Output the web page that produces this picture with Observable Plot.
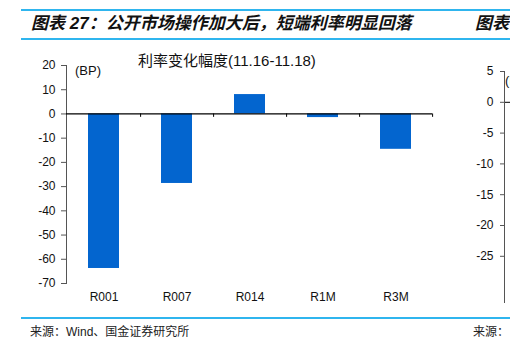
<!DOCTYPE html>
<html><head><meta charset="utf-8">
<script src="https://cdn.jsdelivr.net/npm/d3@7"></script>
<script src="https://cdn.jsdelivr.net/npm/@observablehq/plot@0.6"></script>
<style>
html,body{margin:0;padding:0;background:#fff;}
body{width:510px;height:340px;position:relative;overflow:hidden;font-family:"Liberation Sans","Noto Sans CJK SC",sans-serif;}
.abs{position:absolute;white-space:nowrap;}
.hline{position:absolute;left:21px;width:489px;height:2px;background:#2fb5ee;}
.title{font-size:17px;line-height:20px;font-weight:bold;font-style:italic;color:#111;}
.src{font-size:12px;line-height:14px;color:#222;}
svg{max-width:none !important;}
</style></head>
<body>
<div class="hline" style="top:9px"></div>
<div class="hline" style="top:38px"></div>
<div class="hline" style="top:317px"></div>
<div class="abs title" style="left:31px;top:14px;">图表 27：公开市场操作加大后，短端利率明显回落</div>
<div class="abs title" style="left:475px;top:14px;">图表</div>
<div class="abs src" style="left:30px;top:325px;">来源：Wind、国金证券研究所</div>
<div class="abs src" style="left:473px;top:325px;">来源：</div>
<div class="abs" style="left:138px;top:52px;font-size:15px;line-height:18px;color:#111;">利率变化幅度(11.16-11.18)</div>
<div class="abs" style="left:75px;top:63px;font-size:13px;line-height:15px;color:#111;">(BP)</div>
<div class="abs" style="left:505px;top:73px;font-size:13px;line-height:15px;color:#111;">(BP)</div>
<div id="main" class="abs" style="left:0;top:50px;width:450px;"></div>
<div id="right" class="abs" style="left:440px;top:50px;width:110px;"></div>
<script>
const categories = ["R001", "R007", "R014", "R1M", "R3M"];
const changes = [-63.8, -28.7, 8.0, -1.5, -14.6];
const yTicks = [20, 10, 0, -10, -20, -30, -40, -50, -60, -70];
const rightTicks = [5, 0, -5, -10, -15, -20, -25];

const data = categories.map((c, i) => ({cat: c, v: changes[i]}));
const step = (432 - 66) / categories.length;
const fmt = d => String(d);

const main = Plot.plot({
  width: 450, height: 260,
  marginLeft: 66, marginRight: 18, marginTop: 15, marginBottom: 27,
  style: {fontFamily: "Liberation Sans, Arial, sans-serif", fontSize: "12px", color: "#111", background: "transparent", maxWidth: "none"},
  x: {domain: categories, paddingInner: 0.58, paddingOuter: 0.29, label: null},
  y: {domain: [-70, 20], label: null},
  marks: [
    Plot.barY(data, {x: "cat", y: "v", fill: "#0365cf"}),
    Plot.axisY({ticks: yTicks, tickFormat: fmt, tickSize: 5, tickPadding: 6, stroke: "#555", label: null, fontSize: 12}),
    Plot.frame({anchor: "left", stroke: "#555"}),
    Plot.ruleY([0], {stroke: "#000", strokeWidth: 1.2}),
    Plot.ruleX(categories, {x: d => d, y1: 0, y2: -1.4, dx: step / 2, stroke: "#000"}),
    Plot.axisX({tickSize: 0, tickPadding: 9, label: null, fontSize: 12})
  ]
});
document.getElementById("main").appendChild(main);

const right = Plot.plot({
  width: 110, height: 260,
  marginLeft: 64, marginRight: 0, marginTop: 21, marginBottom: 8,
  style: {fontFamily: "Liberation Sans, Arial, sans-serif", fontSize: "12px", color: "#111", background: "transparent", maxWidth: "none"},
  x: {domain: [0, 1], axis: null},
  y: {domain: [-32.5, 5], label: null},
  marks: [
    Plot.axisY({ticks: rightTicks, tickFormat: fmt, tickSize: 4, tickPadding: 7, stroke: "#555", label: null, fontSize: 12}),
    Plot.ruleY([0], {stroke: "#000"}),
    Plot.frame({anchor: "left", stroke: "#555"})
  ]
});
document.getElementById("right").appendChild(right);
</script>
</body></html>
